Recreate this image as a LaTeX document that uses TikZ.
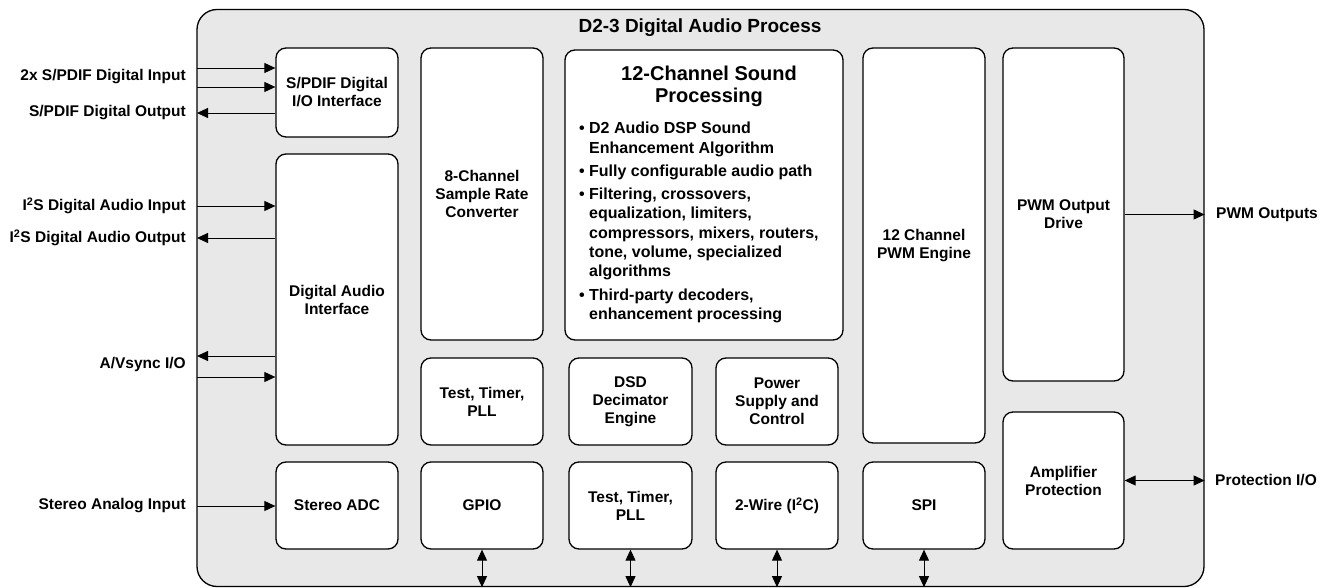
\documentclass[tikz,border=0pt]{standalone}
\usepackage{fontspec}
\setmainfont{Liberation Sans}
\usetikzlibrary{arrows.meta}
\definecolor{chipgray}{RGB}{232,232,232}
\newcommand{\bitem}{\makebox[10pt][l]{\textbullet}}
\newcommand{\bcont}{\hspace*{10pt}}
\tikzset{
    blk/.style={draw=black, fill=white, line width=1.3pt, rounded corners=10pt, inner sep=0pt, align=center, font=\fontsize{15.5}{18}\selectfont\bfseries},
    lbl/.style={anchor=east, inner sep=0pt, font=\fontsize{15.5}{18}\selectfont\bfseries},
    sig/.style={line width=0.9pt, -{Triangle[length=11pt,width=10pt]}},
    bus/.style={line width=0.9pt, {Triangle[length=11pt,width=10pt]}-{Triangle[length=11pt,width=10pt]}}
}

\begin{document}
\begin{tikzpicture}
  [
    x                       = 1pt,
    y                       = -1pt,
  ]
  \useasboundingbox (0,0) rectangle (1331,588);
  \node [draw=black, fill=chipgray, line width=1.3pt, rounded corners=20pt, inner sep=0pt,
         minimum width=1007pt, minimum height=577pt] (die) at (700.5,298) {};
  \node [font=\fontsize{19}{22}\selectfont\bfseries] (ttl) at (700,28) {D2-3 Digital Audio Process};

  \node [blk, minimum width=122pt, minimum height=89pt]  (spdif) at (337,92.5)   {S/PDIF Digital\\I/O Interface};
  \node [blk, minimum width=122pt, minimum height=291pt] (dai)   at (337,299.5)  {Digital Audio\\Interface};
  \node [blk, minimum width=122pt, minimum height=87pt]  (adc)   at (337,505.5)  {Stereo ADC};
  \node [blk, minimum width=122pt, minimum height=292pt] (src)   at (482,194)    {8-Channel\\Sample Rate\\Converter};
  \node [blk, minimum width=122pt, minimum height=87pt]  (ttpa)  at (482,401.5)  {Test, Timer,\\PLL};
  \node [blk, minimum width=122pt, minimum height=87pt]  (gpio)  at (482,505.5)  {GPIO};
  \node [blk, minimum width=278pt, minimum height=290pt] (snd)   at (704,195)    {};
  \node [blk, minimum width=123pt, minimum height=87pt]  (dsd)   at (630.5,401.5){DSD\\Decimator\\Engine};
  \node [blk, minimum width=123pt, minimum height=87pt]  (ttpb)  at (630.5,505.5){Test, Timer,\\PLL};
  \node [blk, minimum width=122pt, minimum height=87pt]  (psu)   at (777,401.5)  {Power\\Supply and\\Control};
  \node [blk, minimum width=122pt, minimum height=87pt]  (twi)   at (777,505.5)  {2-Wire (I\textsuperscript{2}C)};
  \node [blk, minimum width=122pt, minimum height=395pt] (pwm)   at (924,245.5)  {12 Channel\\PWM Engine};
  \node [blk, minimum width=122pt, minimum height=87pt]  (spi)   at (924,505.5)  {SPI};
  \node [blk, minimum width=121pt, minimum height=333pt] (drv)   at (1063.5,214.5){PWM Output\\Drive};
  \node [blk, minimum width=121pt, minimum height=137pt] (amp)   at (1063.5,480.5){Amplifier\\Protection};

  \node [anchor=north, inner sep=0pt, align=center, font=\fontsize{20}{22}\selectfont\bfseries]
        (sndhd) at (709,66) {12-Channel Sound\\Processing};
  \node [anchor=north west, inner sep=0pt, align=left, font=\fontsize{16}{19.3}\selectfont\bfseries]
        (sndlist) at (579,122) {%
    \bitem D2 Audio DSP Sound\\
    \bcont Enhancement Algorithm\\[4pt]
    \bitem Fully configurable audio path\\[4pt]
    \bitem Filtering, crossovers,\\
    \bcont equalization, limiters,\\
    \bcont compressors, mixers, routers,\\
    \bcont tone, volume, specialized\\
    \bcont algorithms\\[4pt]
    \bitem Third-party decoders,\\
    \bcont enhancement processing};

  \coordinate (spina)  at (197,68);
  \coordinate (spinb)  at (197,87);
  \coordinate (spout)  at (197,113);
  \coordinate (i2sin)  at (197,206);
  \coordinate (i2sout) at (197,238);
  \coordinate (avout)  at (197,356);
  \coordinate (avin)   at (197,377);
  \coordinate (anin)   at (197,506);

  \node [lbl] (lspin)   at (186,77)  {2x S/PDIF Digital Input};
  \node [lbl] (lspout)  at (186,113) {S/PDIF Digital Output};
  \node [lbl] (li2sin)  at (186,206) {I\textsuperscript{2}S Digital Audio Input};
  \node [lbl] (li2sout) at (186,238) {I\textsuperscript{2}S Digital Audio Output};
  \node [lbl] (lav)     at (186,364) {A/Vsync I/O};
  \node [lbl] (lanin)   at (186,506) {Stereo Analog Input};
  \node [lbl, anchor=west] (lpwm)  at (1216,215)   {PWM Outputs};
  \node [lbl, anchor=west] (lprot) at (1215,480.5) {Protection I/O};

  \draw [sig] (spina) -- (spdif.west |- spina);
  \draw [sig] (spinb) -- (spdif.west |- spinb);
  \draw [sig] (spdif.west |- spout) -- (spout);
  \draw [sig] (i2sin) -- (dai.west |- i2sin);
  \draw [sig] (dai.west |- i2sout) -- (i2sout);
  \draw [sig] (dai.west |- avout) -- (avout);
  \draw [sig] (avin) -- (dai.west |- avin);
  \draw [sig] (anin) -- (adc.west |- anin);
  \draw [sig] (drv) -- (drv -| die.east);
  \draw [bus] (amp) -- (amp -| die.east);

  \draw [bus] (gpio) -- (gpio |- die.south);
  \draw [bus] (ttpb) -- (ttpb |- die.south);
  \draw [bus] (twi)  -- (twi |- die.south);
  \draw [bus] (spi)  -- (spi |- die.south);
\end{tikzpicture}
\end{document}
